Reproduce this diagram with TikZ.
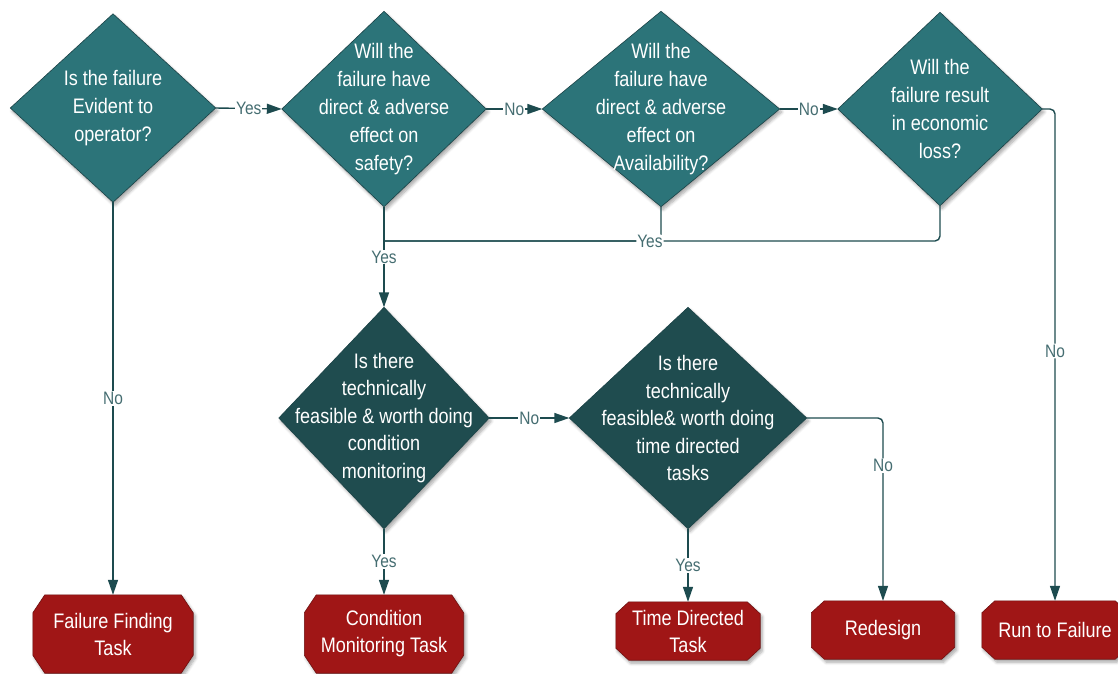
\documentclass[tikz,border=0pt]{standalone}
\usepackage{fontspec}
\setmainfont{Liberation Sans}[FakeStretch=0.86]
\usetikzlibrary{arrows.meta,shadows.blur,backgrounds,calc}

\definecolor{dtop}{HTML}{2C7479}
\definecolor{dlow}{HTML}{1F4C4F}
\definecolor{dedge}{HTML}{1B4246}
\definecolor{tred}{HTML}{A01616}
\definecolor{tedge}{HTML}{6E1010}
\definecolor{conncol}{HTML}{1D4B4F}
\definecolor{lblcol}{HTML}{456D71}

\newcommand\diashape[2]{\fill[#2, draw=dedge, line width=0.6pt, softshadow] (#1.north) -- (#1.east) -- (#1.south) -- (#1.west) -- cycle;}
\newcommand\octashape[3]{\fill[tred, draw=tedge, line width=0.6pt, softshadow]
  ([xshift=#2pt]#1.north west) -- ([xshift=-#2pt]#1.north east) -- ([yshift=-#3pt]#1.north east) --
  ([yshift=#3pt]#1.south east) -- ([xshift=-#2pt]#1.south east) -- ([xshift=#2pt]#1.south west) --
  ([yshift=#3pt]#1.south west) -- ([yshift=-#3pt]#1.north west) -- cycle;}

\begin{document}
\begin{tikzpicture}[x=1pt,y=-1pt,
  qbox/.style={draw=none, inner sep=0pt, text=white, align=center, font=\fontsize{21pt}{28pt}\selectfont},
  tbox/.style={draw=none, inner sep=0pt, text=white, align=center, font=\fontsize{21pt}{27pt}\selectfont},
  conn/.style={draw=conncol, line width=1.4pt},
  arr/.style={conn, -{Triangle[length=15pt,width=10pt]}},
  lab/.style={fill=white, inner sep=1pt, text=lblcol, font=\fontsize{18pt}{20pt}\selectfont},
  softshadow/.style={blur shadow={shadow xshift=2pt, shadow yshift=-3pt, shadow blur radius=3pt, shadow blur steps=6, shadow opacity=35}},
]
\useasboundingbox (0,0) rectangle (1118,673);

% decision nodes
\node[qbox, minimum width=205, minimum height=188] (d1) at (113,108) {Is the failure\\Evident to\\operator?};
\node[qbox, minimum width=204, minimum height=195] (d2) at (384,109) {Will the\\failure have\\direct \& adverse\\effect on\\safety?};
\node[qbox, minimum width=237, minimum height=195] (d3) at (661,109) {Will the\\failure have\\direct \& adverse\\effect on\\Availability?};
\node[qbox, minimum width=204, minimum height=193] (d4) at (940,109) {Will the\\failure result\\in economic\\loss?};
\node[qbox, minimum width=210, minimum height=221, font=\fontsize{21pt}{27.5pt}\selectfont] (d5) at (384,418) {Is there\\technically\\feasible \& worth doing\\condition\\monitoring};
\node[qbox, minimum width=237, minimum height=221, font=\fontsize{21pt}{27.5pt}\selectfont] (d6) at (688,418) {Is there\\technically\\feasible\& worth doing\\time directed\\tasks};

% terminal nodes
\node[tbox, minimum width=160, minimum height=78] (fft) at (113,634) {Failure Finding\\Task};
\node[tbox, minimum width=159, minimum height=78] (cmt) at (384,634) {Condition\\Monitoring Task};
\node[tbox, minimum width=144, minimum height=58] (tdt) at (688,631) {Time Directed\\Task};
\node[tbox, minimum width=143, minimum height=58] (red) at (883,630) {Redesign};
\node[tbox, minimum width=146, minimum height=58] (rtf) at (1055,630) {Run to Failure};

\begin{pgfonlayer}{background}
  \diashape{d1}{dtop}
  \diashape{d2}{dtop}
  \diashape{d3}{dtop}
  \diashape{d4}{dtop}
  \diashape{d5}{dlow}
  \diashape{d6}{dlow}
  \octashape{fft}{12}{18}
  \octashape{cmt}{12}{18}
  \octashape{tdt}{13}{12}
  \octashape{red}{13}{12}
  \octashape{rtf}{13}{12}
\end{pgfonlayer}

% connectors
\coordinate (j) at (384,241);
\draw[arr] (d1.east) -- node[lab]{Yes} (d2.west);
\draw[arr] (d2.east) -- node[lab]{No} (d3.west);
\draw[arr] (d3.east) -- node[lab]{No} (d4.west);
\draw[arr] (d1.south) -- node[lab]{No} (fft.north);
\draw[conn, rounded corners=5pt] (d4.south) |- (j);
\draw[conn, rounded corners=5pt] (d3.south) |- node[lab, pos=0.52]{Yes} (j);
\draw[arr] (d2.south) -- node[lab]{Yes} (d5.north);
\draw[arr, rounded corners=5pt] (d4.east) -| node[lab, pos=0.746]{No} (rtf.north);
\draw[arr] (d5.east) -- node[lab]{No} (d6.west);
\draw[arr] (d5.south) -- node[lab]{Yes} (cmt.north);
\draw[arr] (d6.south) -- node[lab]{Yes} (tdt.north);
\draw[arr, rounded corners=5pt] (d6.east) -| node[lab, pos=0.63]{No} (red.north);
\end{tikzpicture}
\end{document}
